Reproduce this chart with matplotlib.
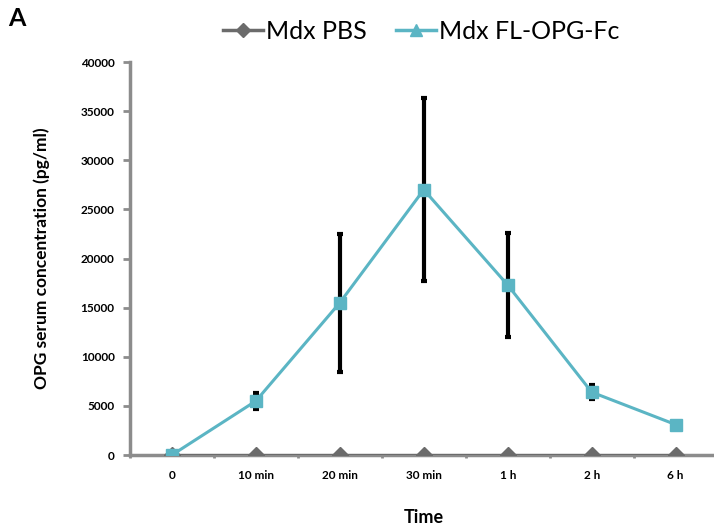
import numpy as np
import matplotlib.pyplot as plt
from matplotlib.lines import Line2D

plt.rcParams['font.family'] = ['Lato', 'DejaVu Sans']

# data
times = ['0', '10 min', '20 min', '30 min', '1 h', '2 h', '6 h']
pbs = [0, 0, 0, 0, 0, 0, 0]
opg = [0, 5500, 15500, 27000, 17300, 6400, 3100]
opg_err = [0, 800, 7000, 9300, 5300, 700, 0]

teal = '#5bb5c4'
grey = '#6b6b6b'
axis_grey = '#8c8c8c'

fig = plt.figure(figsize=(7.14, 5.25), dpi=100)
ax = fig.add_axes([0.182, 0.1333, 0.823, 0.7486])

X = np.arange(len(times))

ax.plot(X, pbs, color=grey, lw=2.2, marker='D', ms=8, mec=grey, mfc=grey, zorder=3)
ax.errorbar(X[1:6], opg[1:6], yerr=opg_err[1:6], fmt='none', ecolor='black',
            elinewidth=3, capsize=2.5, capthick=3, zorder=2)
ax.plot(X, opg, color=teal, lw=2.2, marker='s', ms=9, mec=teal, mfc=teal, zorder=4)

ax.set_xlim(-0.5, 6.5)
ax.set_ylim(0, 40000)
ax.set_yticks(np.arange(0, 40001, 5000))
ax.set_xticks(X)
ax.set_xticklabels(times)
ax.set_xticks(np.arange(-0.5, 6.6, 1), minor=True)

for s in ['top', 'right']:
    ax.spines[s].set_visible(False)
for s in ['left', 'bottom']:
    ax.spines[s].set_color(axis_grey)
    ax.spines[s].set_linewidth(2.5)
ax.spines['bottom'].set_zorder(1)

ax.tick_params(axis='y', direction='out', length=5, width=2, color=axis_grey,
               labelsize=8.5, pad=6)
ax.tick_params(axis='x', which='major', length=0, labelsize=8.5, pad=11)
ax.tick_params(axis='x', which='minor', direction='out', length=2.5, width=2,
               color=axis_grey)
for lab in ax.get_xticklabels() + ax.get_yticklabels():
    lab.set_fontweight('bold')

ax.set_xlabel('Time', fontsize=13, fontweight='bold', labelpad=20)
ax.set_ylabel('OPG serum concentration (pg/ml)', fontsize=12.5, fontweight='bold',
              labelpad=22)

handles = [Line2D([], [], color=grey, lw=2.5, marker='D', ms=7, mfc=grey, mec=grey),
           Line2D([], [], color=teal, lw=2.5, marker='^', ms=8, mfc=teal, mec=teal)]
fig.legend(handles, ['Mdx PBS', 'Mdx FL-OPG-Fc'], loc='center',
           bbox_to_anchor=(0.59, 0.94), ncol=2, frameon=False, fontsize=18,
           handlelength=1.6, handletextpad=0.1, columnspacing=1.2)

fig.text(0.012, 0.965, 'A', fontsize=18, fontweight='bold', va='center')

fig.savefig('out.png', dpi=100)
